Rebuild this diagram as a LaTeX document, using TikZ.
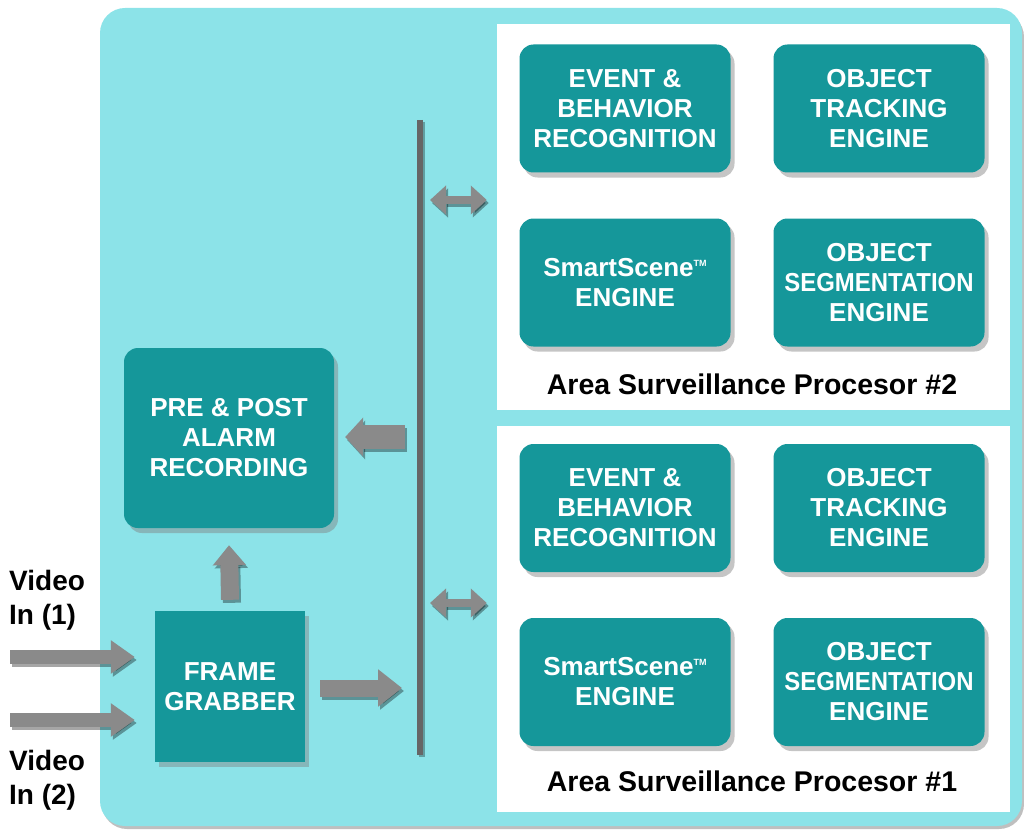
\documentclass[tikz,border=0pt]{standalone}
\usepackage{fontspec}
\setmainfont{Liberation Sans}
\usetikzlibrary{shadows,arrows.meta}
\definecolor{bgcyan}{HTML}{8CE3E8}
\definecolor{tealbox}{HTML}{15979A}
\definecolor{arrgray}{HTML}{8A8A8A}
\newcommand\tmark{{\fontsize{9}{9}\selectfont\raisebox{10pt}{TM}}}
\newcommand\segword{\scalebox{0.92}[1]{SEGMENTATION}}
\tikzset{
  boxbase/.style={fill=tealbox, text=white, align=center, inner sep=0pt,
    font=\bfseries\fontsize{26}{30}\selectfont,
    drop shadow={shadow xshift=4pt, shadow yshift=-5pt, opacity=0.45}},
  eng/.style={boxbase, rounded corners=14pt, minimum width=211pt, minimum height=128pt},
  panel/.style={fill=white, inner sep=0pt, minimum width=513pt, minimum height=386pt},
  caption/.style={font=\bfseries\fontsize{28.5}{30}\selectfont, text=black, inner sep=0pt},
  vlabel/.style={font=\bfseries\fontsize{28}{34}\selectfont, text=black, align=left, inner sep=0pt},
  busline/.style={line width=6pt, draw=black!60},
}
\newcommand\garr[4]{%
  \draw[line width=#1, black, opacity=.35, transform canvas={shift={(2pt,-3pt)}}, #2] (#3) -- (#4);
  \draw[line width=#1, arrgray, #2] (#3) -- (#4);}
\begin{document}
\begin{tikzpicture}[x=1pt, y=-1pt]
\useasboundingbox (0,0) rectangle (1024,829);
% background
\fill[black, opacity=.25, rounded corners=25pt] (102,12) rectangle (1024,829);
\fill[bgcyan, rounded corners=25pt] (100,8) rectangle (1022,826);
% panels
\node[panel] (p2) at (753.5,217) {};
\node[panel] (p1) at (753.5,618.5) {};
% upper engines
\node[eng] (e2a) at (625,108.5) {EVENT \&\\BEHAVIOR\\RECOGNITION};
\node[eng] (e2b) at (879,108.5) {OBJECT\\TRACKING\\ENGINE};
\node[eng] (e2c) at (625,282.5) {SmartScene\tmark\\ENGINE};
\node[eng] (e2d) at (879,282.5) {OBJECT\\\segword\\ENGINE};
\node[caption] (c2) at (752,384) {Area Surveillance Procesor \#2};
% lower engines
\node[eng] (e1a) at (625,508) {EVENT \&\\BEHAVIOR\\RECOGNITION};
\node[eng] (e1b) at (879,508) {OBJECT\\TRACKING\\ENGINE};
\node[eng] (e1c) at (625,682) {SmartScene\tmark\\ENGINE};
\node[eng] (e1d) at (879,682) {OBJECT\\\segword\\ENGINE};
\node[caption] (c1) at (752,781) {Area Surveillance Procesor \#1};
% left boxes
\node[boxbase, rounded corners=14pt, minimum width=210pt, minimum height=180pt] (rec) at (229,438)
  {PRE \& POST\\ALARM\\RECORDING};
\node[boxbase, minimum width=150pt, minimum height=151pt] (fg) at (230,686.5) {FRAME\\GRABBER};
% video labels
\node[vlabel, anchor=west] (v1) at (9,600) {Video\\In (1)};
\node[vlabel, anchor=west] (v2) at (9,780) {Video\\In (2)};
% bus
\coordinate (bt) at (420,120);
\coordinate (bb) at (420,755);
\draw[busline, black, opacity=.3, transform canvas={shift={(2pt,-2pt)}}] (bt) -- (bb);
\draw[busline] (bt) -- (bb);
% arrow end points
\coordinate (a1s) at (10,657);  \coordinate (a1e) at (fg.west |- a1s);
\coordinate (a2s) at (10,720);  \coordinate (a2e) at (fg.west |- a2s);
\coordinate (fo) at (fg.east |- 0,688); \coordinate (fb) at (bt |- fo);
\coordinate (ru) at (fg.north); \coordinate (rd) at (rec.south);
\coordinate (bl) at (bt |- 0,437); \coordinate (rr) at (rec.east |- bl);
\coordinate (d2l) at (bt |- 0,200); \coordinate (d2r) at (p2.west |- d2l);
\coordinate (d1l) at (bt |- 0,603); \coordinate (d1r) at (p1.west |- d1l);
% arrows
\garr{14pt}{-{Triangle[length=24pt,width=32pt]}}{a1s}{[xshift=-20pt]a1e}
\garr{14pt}{-{Triangle[length=24pt,width=32pt]}}{a2s}{[xshift=-20pt]a2e}
\garr{17pt}{-{Triangle[length=24pt,width=36pt]}}{[xshift=15pt]fo}{[xshift=-18pt]fb}
\garr{18pt}{-{Triangle[length=20pt,width=32pt]}}{[yshift=11pt]ru}{[yshift=-17pt]rd}
\garr{24pt}{-{Triangle[length=18pt,width=38pt]}}{[xshift=-15pt]bl}{[xshift=11pt]rr}
\garr{8pt}{{Triangle[length=16pt,width=28pt]}-{Triangle[length=16pt,width=28pt]}}{[xshift=10pt]d2l}{[xshift=-10pt]d2r}
\garr{8pt}{{Triangle[length=16pt,width=28pt]}-{Triangle[length=16pt,width=28pt]}}{[xshift=10pt]d1l}{[xshift=-10pt]d1r}
\end{tikzpicture}
\end{document}
